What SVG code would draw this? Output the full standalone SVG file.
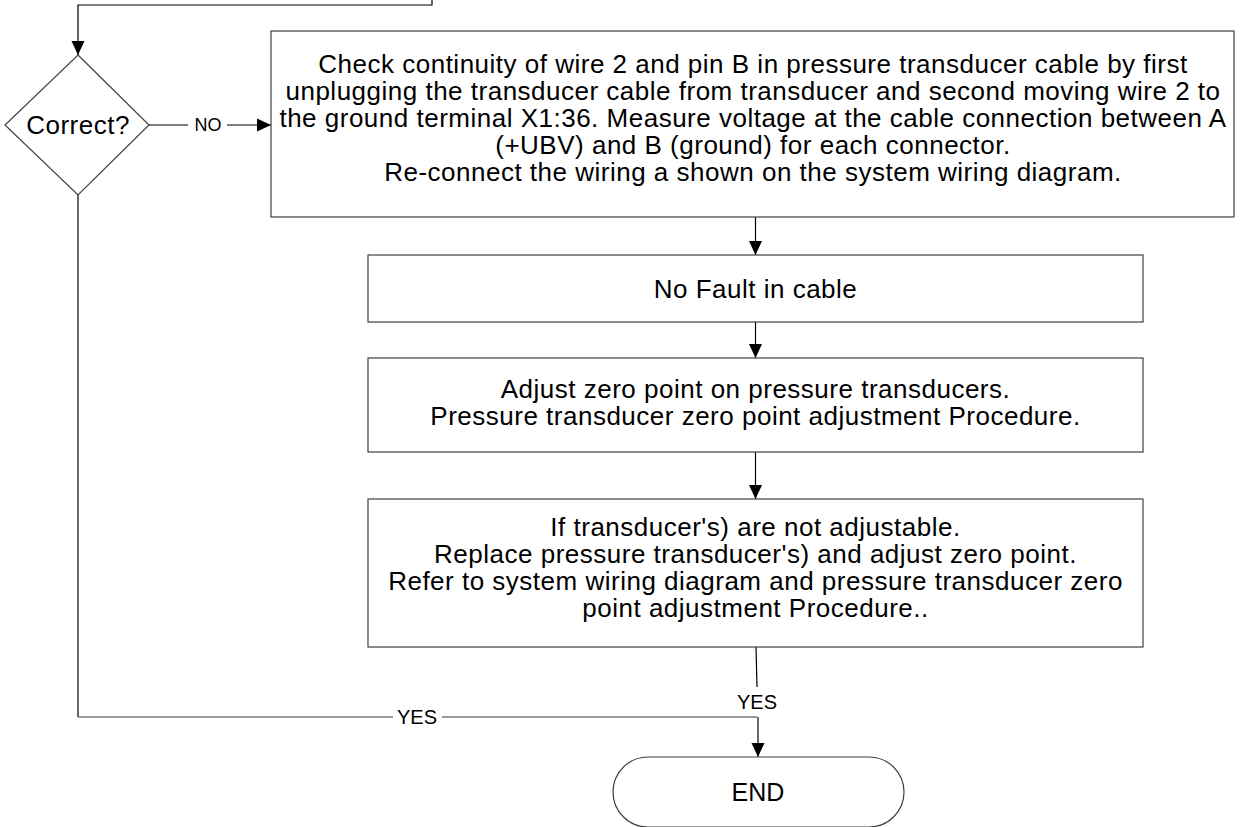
<svg xmlns="http://www.w3.org/2000/svg" width="1242" height="827" viewBox="0 0 1242 827">
<style>
.box{fill:#fff;stroke:#404040;stroke-width:1.2}
.t{font-family:"Liberation Sans",Arial,sans-serif;font-size:26px;letter-spacing:0.5px;fill:#000;text-anchor:middle}
.lbl{font-family:"Liberation Sans",Arial,sans-serif;fill:#000;text-anchor:middle}
.c{fill:none;stroke:#000;stroke-width:1.2}
.g{fill:none;stroke:#777;stroke-width:1.5}
</style>
<defs>
<marker id="ah" markerUnits="userSpaceOnUse" markerWidth="14" markerHeight="14" viewBox="0 0 14 14" refX="14" refY="7" orient="auto">
<path d="M0,0.5 L14,7 L0,13.5 Z" fill="#000"/>
</marker>
</defs>
<rect width="1242" height="827" fill="#fff"/>
<g id="connectors">
<path class="c" d="M432,0 V5 H78 V55" marker-end="url(#ah)"/>
<path class="c" d="M149,125 H271" marker-end="url(#ah)"/>
<path class="c" d="M755.5,217 V255" marker-end="url(#ah)"/>
<path class="c" d="M755.5,322 V358" marker-end="url(#ah)"/>
<path class="c" d="M755.5,452 V499" marker-end="url(#ah)"/>
<path class="c" d="M78,195 V717"/>
<path class="g" d="M78,717 H757"/>
<path class="c" stroke-width="1" d="M756,647 L757,687"/>
<path class="c" stroke-width="1.5" d="M758,717 V757" marker-end="url(#ah)"/>
<rect x="188" y="113" width="39" height="24" fill="#fff"/>
<text class="lbl" x="208" y="131" font-size="18">NO</text>
<rect x="393" y="704" width="49" height="26" fill="#fff"/>
<text class="lbl" x="417" y="724" font-size="20">YES</text>
<rect x="732" y="689" width="50" height="27" fill="#fff"/>
<text class="lbl" x="757" y="709" font-size="20">YES</text>
</g>
<g id="decision">
<polygon class="box" points="78,55 149,125 78,195 5,125"/>
<text class="t" x="78" y="134">Correct?</text>
</g>
<g id="check-continuity">
<rect class="box" x="271" y="31" width="963" height="186"/>
<text class="t" x="753" y="73">Check continuity of wire 2 and pin B in pressure transducer cable by first<tspan x="753" dy="27">unplugging the transducer cable from transducer and second moving wire 2 to</tspan><tspan x="753" dy="27">the ground terminal X1:36. Measure voltage at the cable connection between A</tspan><tspan x="753" dy="27">(+UBV) and B (ground) for each connector.</tspan><tspan x="753" dy="27">Re-connect the wiring a shown on the system wiring diagram.</tspan></text>
</g>
<g id="no-fault">
<rect class="box" x="368" y="255" width="775" height="67"/>
<text class="t" x="755.5" y="298">No Fault in cable</text>
</g>
<g id="adjust-zero">
<rect class="box" x="368" y="358" width="775" height="94"/>
<text class="t" x="755.5" y="398">Adjust zero point on pressure transducers.<tspan x="755.5" dy="27">Pressure transducer zero point adjustment Procedure.</tspan></text>
</g>
<g id="replace">
<rect class="box" x="368" y="499" width="775" height="148"/>
<text class="t" x="755.5" y="535.5">If transducer's) are not adjustable.<tspan x="755.5" dy="27">Replace pressure transducer's) and adjust zero point.</tspan><tspan x="755.5" dy="27">Refer to system wiring diagram and pressure transducer zero</tspan><tspan x="755.5" dy="27">point adjustment Procedure..</tspan></text>
</g>
<g id="end">
<rect class="box" x="613" y="757" width="291" height="70" rx="35" ry="35"/>
<text class="lbl" x="758" y="801" font-size="25">END</text>
</g>
</svg>
